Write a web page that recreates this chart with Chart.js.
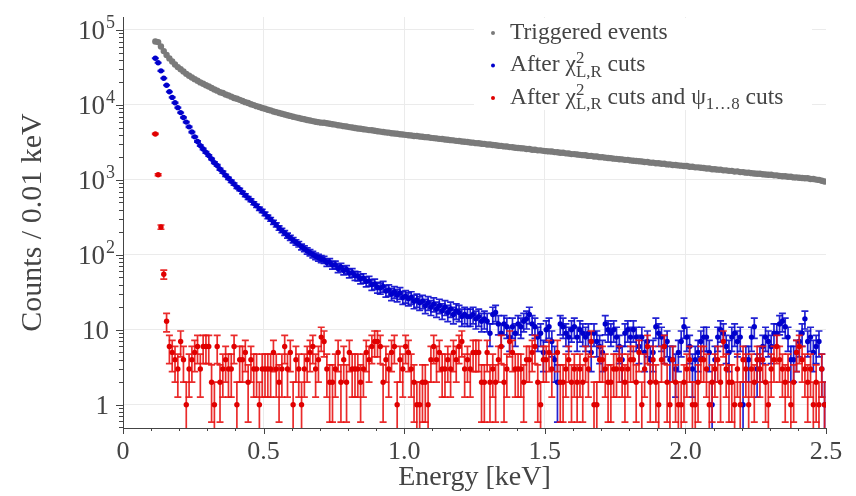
<!DOCTYPE html>
<html>
<head>
<meta charset="utf-8">
<script src="https://cdn.jsdelivr.net/npm/chart.js@4/dist/chart.umd.min.js"></script>
<style>
  html, body { margin: 0; padding: 0; background: #fff; }
</style>
</head>
<body>
<canvas id="spectrum" width="856" height="496"></canvas>
<script>
// energy binning (bin centres, keV)
var binStart = 0.115;
var binWidth = 0.01;

// counts per 0.01 keV bin
var triggered = [
  70200, 68900, 60100, 52300, 46400, 41800, 37900, 34700, 32000, 29900,
  27900, 26000, 24500, 23200, 22100, 21000, 20000, 19200, 18300, 17600,
  16800, 16100, 15500, 14800, 14400, 13800, 13400, 12900, 12400, 12100,
  11700, 11300, 10900, 10600, 10200, 9950, 9640, 9380, 9100, 8880,
  8620, 8450, 8170, 8010, 7790, 7620, 7450, 7270, 7140, 6960,
  6830, 6700, 6540, 6450, 6310, 6200, 6090, 5980, 5890, 5800,
  5790, 5690, 5620, 5530, 5470, 5360, 5300, 5210, 5150, 5060,
  4990, 4930, 4850, 4810, 4730, 4690, 4620, 4590, 4520, 4460,
  4410, 4350, 4300, 4270, 4190, 4160, 4120, 4060, 4040, 3990,
  3950, 3920, 3860, 3850, 3790, 3770, 3720, 3700, 3640, 3610,
  3580, 3530, 3510, 3460, 3440, 3390, 3370, 3320, 3300, 3250,
  3230, 3200, 3160, 3140, 3090, 3080, 3030, 3020, 2970, 2960,
  2920, 2900, 2850, 2840, 2800, 2790, 2740, 2730, 2690, 2670,
  2640, 2630, 2580, 2580, 2530, 2520, 2480, 2480, 2440, 2420,
  2400, 2390, 2350, 2340, 2300, 2300, 2260, 2250, 2210, 2210,
  2180, 2160, 2140, 2130, 2090, 2090, 2050, 2050, 2010, 2010,
  1980, 1960, 1950, 1920, 1910, 1890, 1880, 1850, 1850, 1820,
  1800, 1790, 1770, 1760, 1730, 1730, 1700, 1700, 1670, 1670,
  1640, 1640, 1610, 1610, 1580, 1580, 1560, 1550, 1530, 1530,
  1500, 1500, 1470, 1470, 1450, 1440, 1420, 1420, 1390, 1390,
  1370, 1370, 1340, 1340, 1320, 1320, 1290, 1300, 1270, 1270,
  1250, 1250, 1230, 1220, 1210, 1210, 1190, 1180, 1170, 1170,
  1150, 1150, 1130, 1120, 1120, 1100, 1100, 1080, 1080, 1070,
  1060, 1050, 1050, 1030, 1030, 1010, 1000, 975, 950
];

var afterChi2 = [
  42000, 36500, 28500, 22700, 18300, 15000, 12600, 10700, 9200, 7900,
  6800, 5900, 5100, 4350, 3750, 3250, 2870, 2580, 2330, 2120,
  1900, 1700, 1560, 1390, 1270, 1150, 1050, 960, 880, 800,
  745, 680, 625, 575, 535, 488, 452, 413, 384, 352,
  322, 298, 272, 251, 228, 212, 196, 181, 169, 157,
  147, 139, 128, 121, 113, 107, 101, 96, 92, 88,
  86, 79, 80, 73, 74, 66, 69, 62, 64, 57,
  58, 53, 52, 48, 49, 44, 45, 40, 41, 37,
  36, 38, 33, 34, 30, 32, 29, 31, 27, 28,
  26, 27, 24, 25, 23, 24, 21, 23, 20, 22,
  19, 21, 18, 20, 17, 19, 16, 18, 17, 15,
  16, 15, 15, 16, 14, 15, 13, 14, 13, 9,
  16, 17, 12, 9, 12, 11, 8, 11, 9, 12,
  11, 13, 14, 16, 12, 11, 8, 9, 5, 10,
  11, 7, 4, 2, 12, 11, 9, 8, 10, 11,
  8, 10, 9, 8, 9, 5, 9, 7, 6, 5,
  12, 10, 9, 10, 8, 6, 4, 9, 10, 8,
  10, 8, 6, 8, 5, 7, 4, 5, 11, 9,
  8, 6, 7, 4, 4, 3, 5, 7, 11, 8,
  6, 3, 4, 5, 7, 8, 8, 5, 1, 4,
  8, 10, 9, 6, 5, 8, 9, 7, 8, 1,
  4, 4, 8, 11, 3, 4, 6, 8, 7, 6,
  9, 9, 12, 13, 11, 8, 4, 4, 5, 7,
  9, 14, 7, 8, 5, 6, 7, 3, 1
];

var afterChi2Psi = [
  4100, 1170, 235, 55, 13, 6, 5, 4, 3, 7,
  4, 1, 3, 4, 5, 6, 3, 6, 6, 6,
  2, 1, 6, 2, 3, 4, 3, 3, 6, 1,
  4, 4, 5, 2, 4, 3, 3, 1, 3, 3,
  3, 3, 5, 3, 2, 3, 6, 3, 5, 1,
  4, 3, 1, 3, 4, 5, 6, 3, 4, 8,
  7, 3, 2, 2, 3, 5, 2, 4, 2, 5,
  3, 3, 3, 2, 3, 5, 4, 6, 7, 7,
  6, 2, 4, 3, 5, 6, 1, 4, 3, 6,
  5, 3, 2, 1, 1, 2, 2, 1, 4, 6,
  4, 5, 3, 3, 4, 3, 5, 4, 6, 7,
  3, 4, 3, 5, 5, 5, 2, 2, 5, 2,
  3, 2, 4, 6, 2, 3, 7, 5, 3, 3,
  3, 2, 4, 4, 5, 6, 2, 1, 4, 4,
  5, 3, null, 5, 2, 2, 3, 4, 2, 3,
  2, 3, 2, 4, 3, 7, 1, 1, 4, 4,
  3, 2, 2, 3, 3, 4, 3, 2, 3, 4,
  4, 2, 5, 1, 3, 6, 2, 4, 2, 1,
  4, 6, 2, 1, 4, 2, 1, 1, 2, 3,
  4, 1, 1, 2, 4, 4, 3, 1, 2, 3,
  4, 2, 7, 3, 2, 2, 1, 3, 1, 4,
  3, 1, 3, 2, 4, 3, 4, 2, 1, 3,
  4, 6, 4, 3, 2, 3, 1, 2, 5, 6,
  4, 3, 2, 3, 1, 2, 1, 3, 1
];

var xTickLabels = [0, 0.5, 1, 1.5, 2, 2.5];
var yDecades = [0, 1, 2, 3, 4, 5];

var serif = 'Liberation Serif';
var axisGray = '#444';
var gridGray = '#ebebeb';

function toPoints(values) {
  return values.map(function (v, i) {
    return { x: +(binStart + i * binWidth).toFixed(3), y: v };
  });
}

// Poisson error bars, drawn just under each dataset's markers
var errorBars = {
  id: 'errorBars',
  beforeDatasetDraw: function (chart, args) {
    var ds = chart.data.datasets[args.index];
    if (!ds.errorColor) return;
    var ctx = chart.ctx, a = chart.chartArea;
    var xs = chart.scales.x, ys = chart.scales.y;
    ctx.save();
    ctx.beginPath();
    ctx.rect(a.left, a.top, a.right - a.left, a.bottom - a.top);
    ctx.clip();
    ctx.strokeStyle = ds.errorColor;
    ctx.lineWidth = 1.7;
    ds.data.forEach(function (p) {
      if (p.y == null) return;
      var e = Math.sqrt(p.y);
      var px = xs.getPixelForValue(p.x);
      var top = ys.getPixelForValue(p.y + e);
      var bot = p.y - e > 0 ? ys.getPixelForValue(p.y - e) : a.bottom + 20;
      ctx.beginPath();
      ctx.moveTo(px, top); ctx.lineTo(px, bot);
      ctx.moveTo(px - 3.5, top); ctx.lineTo(px + 3.5, top);
      ctx.moveTo(px - 3.5, bot); ctx.lineTo(px + 3.5, bot);
      ctx.stroke();
    });
    ctx.restore();
  }
};

// tick marks (major + minor) and the 10^n labels
var axisDecor = {
  id: 'axisDecor',
  afterDraw: function (chart) {
    var ctx = chart.ctx, a = chart.chartArea;
    var xs = chart.scales.x, ys = chart.scales.y;
    ctx.save();
    ctx.strokeStyle = axisGray;
    ctx.lineWidth = 1;
    ctx.beginPath();
    for (var k = 0; k <= 25; k++) {
      var px = Math.round(xs.getPixelForValue(k / 10)) + 0.5;
      ctx.moveTo(px, a.bottom);
      ctx.lineTo(px, a.bottom + (k % 5 === 0 ? 6 : 3));
    }
    for (var d = -1; d <= 5; d++) {
      for (var m = 1; m <= 9; m++) {
        var v = m * Math.pow(10, d);
        if (v < ys.min || v > ys.max) continue;
        var py = Math.round(ys.getPixelForValue(v)) + 0.5;
        ctx.moveTo(a.left, py);
        ctx.lineTo(a.left - (m === 1 ? 7 : 4), py);
      }
    }
    ctx.stroke();

    ctx.fillStyle = axisGray;
    ctx.textBaseline = 'alphabetic';
    yDecades.forEach(function (n) {
      var py = ys.getPixelForValue(Math.pow(10, n));
      var base = py + 9;
      ctx.font = '27px ' + serif;
      ctx.textAlign = 'right';
      if (n < 2) {
        ctx.fillText(n === 0 ? '1' : '10', 109, base);
      } else {
        ctx.fillText('10', 105, base);
        ctx.font = '18px ' + serif;
        ctx.textAlign = 'left';
        ctx.fillText(String(n), 106, base - 11);
      }
    });
    ctx.restore();
  }
};

// text with stacked super/subscripts
function drawRuns(ctx, runs, x, y, size) {
  var cx = x, supStart = null;
  runs.forEach(function (r) {
    var t = r[0], kind = r[1];
    ctx.font = (kind ? size * 0.72 : size) + 'px ' + serif;
    var w = ctx.measureText(t).width;
    if (kind === 'sup') {
      ctx.fillText(t, cx, y - size * 0.36);
      supStart = cx;
      cx += w;
    } else if (kind === 'sub') {
      var sx = supStart !== null ? supStart : cx;
      ctx.fillText(t, sx, y + size * 0.24);
      cx = Math.max(cx, sx + w);
      supStart = null;
    } else {
      ctx.fillText(t, cx, y);
      cx += w;
      supStart = null;
    }
  });
}

var legendBox = {
  id: 'legendBox',
  afterDraw: function (chart) {
    var ctx = chart.ctx;
    var items = [
      { color: '#7a7a7a', runs: [['Triggered events', '']] },
      { color: '#0000cc', runs: [['After \u03c7', ''], ['2', 'sup'], ['L,R', 'sub'], [' cuts', '']] },
      { color: '#e00000', runs: [['After \u03c7', ''], ['2', 'sup'], ['L,R', 'sub'], [' cuts and \u03c8', ''], ['1\u20268', 'sub'], [' cuts', '']] }
    ];
    ctx.save();
    ctx.fillStyle = '#fff';
    ctx.fillRect(474, chart.chartArea.top + 1, 338, 92);
    items.forEach(function (it, i) {
      var base = 38.5 + i * 32.5;
      ctx.fillStyle = it.color;
      ctx.beginPath();
      ctx.arc(493, base - 5.5, 2, 0, Math.PI * 2);
      ctx.fill();
      ctx.fillStyle = axisGray;
      ctx.textAlign = 'left';
      ctx.textBaseline = 'alphabetic';
      drawRuns(ctx, it.runs, 510, base, 23.5);
    });
    ctx.restore();
  }
};

new Chart(document.getElementById('spectrum'), {
  type: 'scatter',
  data: {
    datasets: [
      {
        label: 'Triggered events',
        data: toPoints(triggered),
        backgroundColor: '#7a7a7a',
        pointRadius: 3.2,
        borderWidth: 0,
        order: 3
      },
      {
        label: 'After chi2 cuts',
        data: toPoints(afterChi2),
        backgroundColor: '#0000cc',
        errorColor: 'rgba(10, 10, 205, 0.9)',
        pointRadius: 2.7,
        borderWidth: 0,
        order: 2
      },
      {
        label: 'After chi2 and psi cuts',
        data: toPoints(afterChi2Psi),
        backgroundColor: '#e00000',
        errorColor: 'rgba(232, 20, 20, 0.9)',
        pointRadius: 2.7,
        borderWidth: 0,
        order: 1
      }
    ]
  },
  options: {
    responsive: false,
    animation: false,
    devicePixelRatio: 1,
    layout: { padding: { top: 17, right: 30, left: 0, bottom: 0 } },
    plugins: { legend: { display: false }, tooltip: { enabled: false } },
    scales: {
      x: {
        type: 'linear',
        min: 0,
        max: 2.5,
        afterBuildTicks: function (s) { s.ticks = xTickLabels.map(function (v) { return { value: v }; }); },
        afterFit: function (s) { s.height = 68; },
        grid: {
          drawTicks: false,
          color: function (c) { return c.tick && c.tick.value > 0 && c.tick.value < 2.5 ? gridGray : 'rgba(0,0,0,0)'; }
        },
        border: { color: axisGray, width: 1 },
        ticks: { font: { family: serif, size: 26 }, color: axisGray, padding: 9, maxRotation: 0, autoSkip: false },
        title: { display: true, text: 'Energy [keV]', font: { family: serif, size: 28 }, color: axisGray, padding: { top: 0, bottom: 2 } }
      },
      y: {
        type: 'logarithmic',
        min: 0.49,
        max: 1.49e5,
        afterBuildTicks: function (s) { s.ticks = yDecades.map(function (n) { return { value: Math.pow(10, n), major: true }; }); },
        afterFit: function (s) { s.width = 123; },
        grid: { drawTicks: false, color: gridGray },
        border: { color: axisGray, width: 1 },
        ticks: { display: false },
        title: { display: true, text: 'Counts / 0.01 keV', font: { family: serif, size: 30 }, color: axisGray, padding: { top: 15, bottom: 0 } }
      }
    }
  },
  plugins: [errorBars, axisDecor, legendBox]
});
</script>
</body>
</html>
